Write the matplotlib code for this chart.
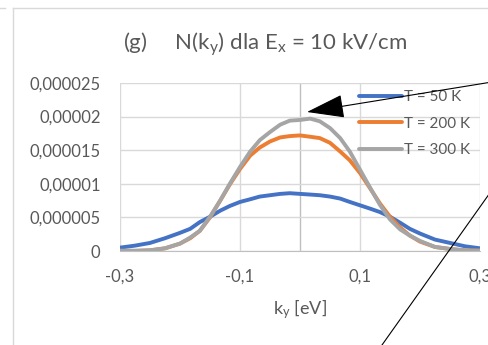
import matplotlib
matplotlib.use("Agg")
import matplotlib.pyplot as plt
from matplotlib.patches import FancyArrowPatch
from matplotlib.lines import Line2D

FONT = "Lato"
plt.rcParams['font.family'] = [FONT, 'DejaVu Sans']
plt.rcParams['mathtext.fontset'] = 'custom'
plt.rcParams['mathtext.rm'] = FONT
plt.rcParams['mathtext.it'] = FONT
plt.rcParams['mathtext.bf'] = FONT

# data (values in units of 1e-6)
k = [-0.3, -0.275, -0.25, -0.225, -0.2, -0.183, -0.167, -0.15, -0.133, -0.117, -0.1,
     -0.083, -0.067, -0.05, -0.033, -0.017, 0.0, 0.017, 0.033, 0.05, 0.067, 0.083,
     0.1, 0.117, 0.133, 0.15, 0.167, 0.183, 0.2, 0.225, 0.25, 0.275, 0.3]
n_50 = [0.5, 0.8, 1.2, 1.9, 2.7, 3.3, 4.3, 5.1, 6.0, 6.7, 7.3,
        7.7, 8.1, 8.3, 8.5, 8.6, 8.5, 8.4, 8.3, 8.1, 7.8, 7.3,
        6.8, 6.3, 5.8, 5.1, 4.2, 3.3, 2.6, 1.7, 1.2, 0.7, 0.4]
n_200 = [0.0, 0.0, 0.1, 0.4, 1.1, 1.9, 3.0, 5.0, 7.5, 9.9, 12.2,
         14.2, 15.4, 16.3, 16.9, 17.1, 17.2, 17.0, 16.8, 16.1, 14.8, 13.5,
         11.6, 9.3, 7.1, 5.1, 3.5, 2.3, 1.4, 0.6, 0.3, 0.1, 0.05]
n_300 = [0.05, 0.05, 0.1, 0.4, 1.1, 2.0, 3.0, 5.1, 7.5, 10.0, 12.5,
         14.8, 16.5, 17.7, 18.8, 19.4, 19.5, 19.7, 19.3, 18.3, 16.8, 14.8,
         12.1, 9.4, 6.9, 4.7, 3.2, 2.3, 1.5, 0.6, 0.3, 0.1, 0.05]
labels = ["T = 50 K", "T = 200 K", "T = 300 K"]
colors = ["#4472C4", "#ED7D31", "#A5A5A5"]
yticks = [0, 5e-6, 1e-5, 1.5e-5, 2e-5, 2.5e-5]
ytick_labels = ["0", "0,000005", "0,00001", "0,000015", "0,00002", "0,000025"]
xticks = [-0.3, -0.1, 0.1, 0.3]
xtick_labels = ["-0,3", "-0,1", "0,1", "0,3"]

W, H = 488, 345
fig = plt.figure(figsize=(W / 100, H / 100), dpi=100)
fig.patch.set_facecolor("white")
ax = fig.add_axes([120 / W, 1 - 251 / H, 360 / W, 168 / H])

for vals, lab, c in zip([n_50, n_200, n_300], labels, colors):
    ax.plot(k, [v * 1e-6 for v in vals], color=c, lw=2.8, label=lab,
            solid_joinstyle="round", solid_capstyle="round")

ax.set_xlim(-0.3, 0.3)
ax.set_ylim(0, 2.5e-5)
ax.set_yticks(yticks)
ax.set_yticklabels(ytick_labels)
ax.set_xticks(xticks)
ax.set_xticklabels(xtick_labels)
ax.tick_params(length=0, labelsize=12, colors="#595959")
ax.tick_params(axis="y", pad=14)
ax.tick_params(axis="x", pad=13)
ax.grid(True, color="#d9d9d9", lw=1)
ax.set_axisbelow(True)
ax.axvline(0, color="#bfbfbf", lw=1, zorder=0.5)
for s in ["top", "right", "left"]:
    ax.spines[s].set_visible(False)
ax.spines["bottom"].set_color("#bfbfbf")
ax.set_xlabel("k$_\\mathregular{y}$ [eV]", fontsize=13, color="#595959", labelpad=9)

leg = ax.legend(loc="upper left", bbox_to_anchor=(359 / W, 1 - 90 / H),
                bbox_transform=fig.transFigure, frameon=False, fontsize=11,
                handlelength=2.8, handletextpad=0.12, labelspacing=0.82,
                borderpad=0, borderaxespad=0)
for t in leg.get_texts():
    t.set_color("#595959")

fig.text(265 / W, 1 - 44 / H, "(g)     N(k$_\\mathregular{y}$) dla E$_\\mathregular{x}$ = 10 kV/cm",
         ha="center", va="center", fontsize=16, color="#595959")

# chart frame
fig.add_artist(Line2D([13 / W, 13 / W], [0, 1 - 8 / H], transform=fig.transFigure, color="#d9d9d9", lw=1))
fig.add_artist(Line2D([13 / W, 1], [1 - 8 / H, 1 - 8 / H], transform=fig.transFigure, color="#d9d9d9", lw=1))
fig.add_artist(Line2D([0, 5 / W], [1 - 8 / H, 1 - 8 / H], transform=fig.transFigure, color="#d9d9d9", lw=1))

# annotation arrow and line
arr = FancyArrowPatch(posA=(492 / W, 1 - 82 / H), posB=(307 / W, 1 - 112 / H),
                      transform=fig.transFigure, arrowstyle="-|>,head_length=24,head_width=7.5",
                      mutation_scale=1, color="black", lw=0.8, shrinkA=0, shrinkB=0)
fig.add_artist(arr)
fig.add_artist(Line2D([382 / W, 492 / W], [0, 1 - 190 / H], transform=fig.transFigure, color="black", lw=0.8))

fig.savefig("out.png", dpi=100)
